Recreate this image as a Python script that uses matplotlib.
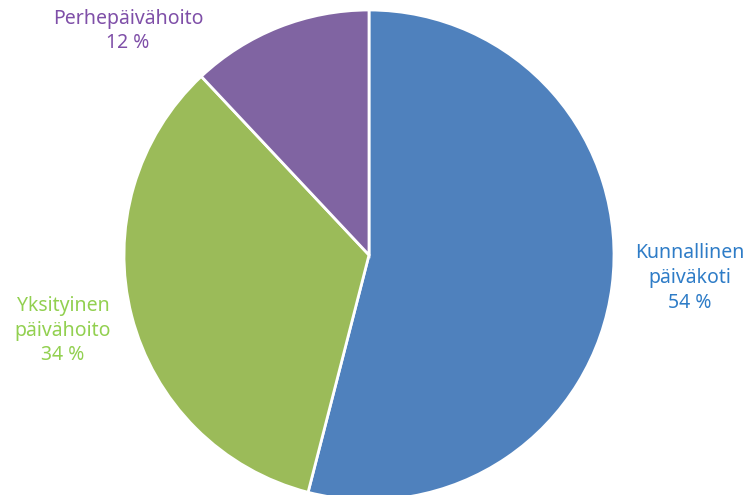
import matplotlib.pyplot as plt

# data
labels = ['Kunnallinen\npäiväkoti', 'Yksityinen\npäivähoito', 'Perhepäivähoito']
values = [54, 34, 12]
slice_colors = ['#4F81BD', '#9BBB59', '#8064A2']
text_colors = ['#2E7CC7', '#92D050', '#7F4FA8']

W, H = 749, 495
fig = plt.figure(figsize=(W / 100, H / 100), dpi=100)
ax = fig.add_axes([0, 0, 1, 1])

cx, cy, r = 369, H - 255, 245
ax.pie(values, colors=slice_colors, startangle=90, counterclock=False,
       center=(cx, cy), radius=r, frame=True,
       wedgeprops=dict(edgecolor='white', linewidth=2))
ax.set_xlim(0, W)
ax.set_ylim(0, H)
ax.set_aspect('equal')
ax.axis('off')

# label positions in pixels (x center, y center of block)
label_pos = [(690, 278), (63, 331), (128, 31)]
for lab, v, c, (x, y) in zip(labels, values, text_colors, label_pos):
    ax.text(x, H - y, f'{lab}\n{v} %', ha='center', va='center',
            color=c, fontsize=14, family='Noto Sans', linespacing=1.3)

plt.savefig('out.png', dpi=100)
